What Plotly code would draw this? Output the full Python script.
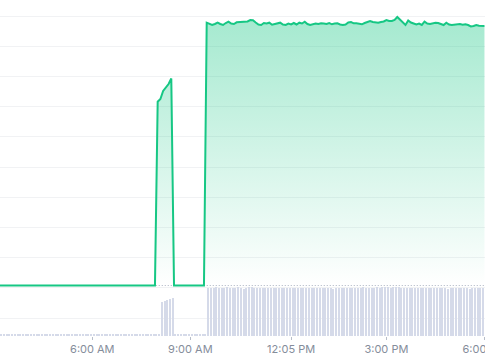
import pandas as pd
import plotly.graph_objects as go

# 5-minute samples, 03:10 -> 18:00
TIMES = pd.date_range("2024-05-01 03:10", "2024-05-01 18:00", freq="5min")

OPEN_PRICE = 50.5

PRICE = [
    # 03:10 - 07:55 (flat at open)
    50.5, 50.5, 50.5, 50.5, 50.5, 50.5, 50.5, 50.5, 50.5, 50.5,
    50.5, 50.5, 50.5, 50.5, 50.5, 50.5, 50.5, 50.5, 50.5, 50.5,
    50.5, 50.5, 50.5, 50.5, 50.5, 50.5, 50.5, 50.5, 50.5, 50.5,
    50.5, 50.5, 50.5, 50.5, 50.5, 50.5, 50.5, 50.5, 50.5, 50.5,
    50.5, 50.5, 50.5, 50.5, 50.5, 50.5, 50.5, 50.5, 50.5, 50.5,
    50.5, 50.5, 50.5, 50.5, 50.5, 50.5, 50.5, 50.5,
    # 08:00 - 08:25 (spike)
    234.3, 237.0, 245.0, 248.0, 252.0, 257.5,
    # 08:30 - 09:25 (flat)
    50.5, 50.5, 50.5, 50.5, 50.5, 50.5, 50.5, 50.5, 50.5, 50.5, 50.5, 50.5,
    # 09:30 - 18:00
    313.3, 312.5, 311.0, 312.0, 313.3, 312.0, 311.0, 313.0, 314.3, 312.5,
    312.0, 313.7, 314.0, 314.0, 314.3, 314.5, 316.0, 315.7, 313.5, 311.5,
    311.0, 313.0, 312.5, 313.3, 311.3, 312.0, 313.0, 313.3, 311.5, 311.0,
    312.5, 311.5, 313.0, 311.5, 313.3, 312.5, 314.3, 312.0, 311.0, 312.0,
    312.5, 312.0, 312.7, 312.5, 312.0, 313.0, 311.7, 312.5, 312.7, 311.5,
    311.0, 311.5, 313.5, 314.0, 312.7, 312.7, 312.0, 311.7, 313.0, 314.0,
    315.0, 314.0, 313.3, 313.3, 314.0, 314.5, 316.0, 315.0, 315.0, 316.0,
    319.0, 316.5, 314.0, 311.0, 315.5, 313.5, 312.5, 311.5, 312.5, 311.0,
    314.3, 312.5, 312.0, 313.0, 313.3, 313.0, 312.0, 311.0, 313.3, 311.5,
    311.0, 311.5, 311.7, 312.0, 311.3, 311.7, 311.0, 309.5, 310.0, 311.0,
    310.3, 310.5, 310.0,
]

VOLUME = [
    # 03:10 - 08:00
    1.5, 1.5, 1.5, 1.5, 1.5, 1.5, 1.5, 1.5, 1.5, 1.5,
    1.5, 1.5, 1.5, 1.5, 1.5, 1.5, 1.5, 1.5, 1.5, 1.5,
    1.5, 1.5, 1.5, 1.5, 1.5, 1.5, 1.5, 1.5, 1.5, 1.5,
    1.5, 1.5, 1.5, 1.5, 1.5, 1.5, 1.5, 1.5, 1.5, 1.5,
    1.5, 1.5, 1.5, 1.5, 1.5, 1.5, 1.5, 1.5, 1.5, 1.5,
    1.5, 1.5, 1.5, 1.5, 1.5, 1.5, 1.5, 1.5, 1.5,
    # 08:05 - 08:25
    34.5, 35.5, 36.5, 37.5, 38.5,
    # 08:30 - 09:25
    1.5, 1.5, 1.5, 1.5, 1.5, 1.5, 1.5, 1.5, 1.5, 1.5, 1.5, 1.5,
    # 09:30 - 18:00
    48.0, 48.5, 47.8, 48.6, 48.2, 47.6, 48.4, 48.8, 48.1, 47.9,
    48.3, 48.7, 48.0, 47.5, 48.2, 48.6, 49.0, 48.4, 47.8, 48.1,
    48.3, 47.7, 48.0, 48.5, 48.2, 47.6, 48.0, 48.4, 47.9, 48.1,
    47.6, 48.3, 48.0, 47.8, 48.2, 48.5, 47.7, 48.0, 48.3, 47.9,
    48.1, 47.6, 48.4, 48.0, 47.8, 48.2, 47.5, 48.1, 48.3, 47.9,
    48.0, 48.4, 47.7, 48.2, 48.0, 47.8, 48.3, 48.6, 48.1, 47.9,
    48.4, 48.2, 48.8, 48.5, 48.7, 49.0, 48.6, 48.3, 48.9, 49.2,
    48.7, 48.4, 48.2, 48.0, 48.5, 47.8, 48.1, 48.3, 47.9, 48.0,
    47.7, 48.2, 47.9, 48.1, 47.6, 48.0, 47.8, 48.2, 47.5, 47.9,
    48.0, 47.6, 47.8, 48.1, 47.7, 47.9, 47.5, 47.8, 48.0, 47.6,
    47.9, 47.7, 48.0,
]

TICK_TIMES = ["2024-05-01 06:00", "2024-05-01 09:00", "2024-05-01 12:05",
              "2024-05-01 15:00", "2024-05-01 18:00"]
TICK_LABELS = ["6:00 AM", "9:00 AM", "12:05 PM", "3:00 PM", "6:00 PM"]

X_RANGE = ["2024-05-01 03:10:29", "2024-05-01 18:01:00"]

GREEN = "#16c784"

fig = go.Figure()

# volume bars (primary y)
fig.add_trace(go.Bar(
    x=TIMES + pd.Timedelta(minutes=3), y=VOLUME,
    marker=dict(color="#d5dae9", line=dict(width=0)),
    width=150000, yaxis="y", hoverinfo="skip", showlegend=False,
))

first, last = TIMES[0], TIMES[-1]

# open-price dotted reference line
fig.add_trace(go.Scatter(
    x=[first, last], y=[OPEN_PRICE, OPEN_PRICE], yaxis="y2", mode="lines",
    line=dict(color="#aab2c0", width=1, dash="1px,2px"),
    hoverinfo="skip", showlegend=False,
))
# invisible base for fill
fig.add_trace(go.Scatter(
    x=[first, last], y=[OPEN_PRICE, OPEN_PRICE], yaxis="y2", mode="lines",
    line=dict(width=0, color="rgba(0,0,0,0)"),
    hoverinfo="skip", showlegend=False,
))
# price line
fig.add_trace(go.Scatter(
    x=TIMES, y=PRICE, yaxis="y2", mode="lines",
    line=dict(color=GREEN, width=2),
    fill="tonexty",
    fillgradient=dict(
        type="vertical",
        colorscale=[[0, "rgba(22,199,132,0)"], [1, "rgba(22,199,132,0.38)"]],
        start=OPEN_PRICE, stop=313,
    ),
    hoverinfo="skip", showlegend=False,
))

fig.update_layout(
    width=485, height=360,
    margin=dict(l=0, r=0, t=0, b=24, autoexpand=False),
    paper_bgcolor="white", plot_bgcolor="white",
    bargap=0,
    xaxis=dict(
        type="date", range=X_RANGE, showgrid=False, zeroline=False,
        showline=False, automargin=False,
        tickmode="array", tickvals=TICK_TIMES, ticktext=TICK_LABELS,
        ticks="outside", ticklen=3, tickcolor="#b8bec9", tickwidth=1,
        ticklabeloverflow="allow",
        tickfont=dict(family="Inter", size=11, color="#858d9b"),
    ),
    yaxis=dict(
        range=[0, 336], showgrid=True, gridcolor="#f1f2f4", gridwidth=1,
        tickmode="linear", tick0=18, dtick=30.2, automargin=False,
        showticklabels=False, zeroline=False, showline=False,
    ),
    yaxis2=dict(
        range=[0, 336], overlaying="y", showgrid=False, automargin=False,
        showticklabels=False, zeroline=False, showline=False,
    ),
)

fig.write_html("out.html")
